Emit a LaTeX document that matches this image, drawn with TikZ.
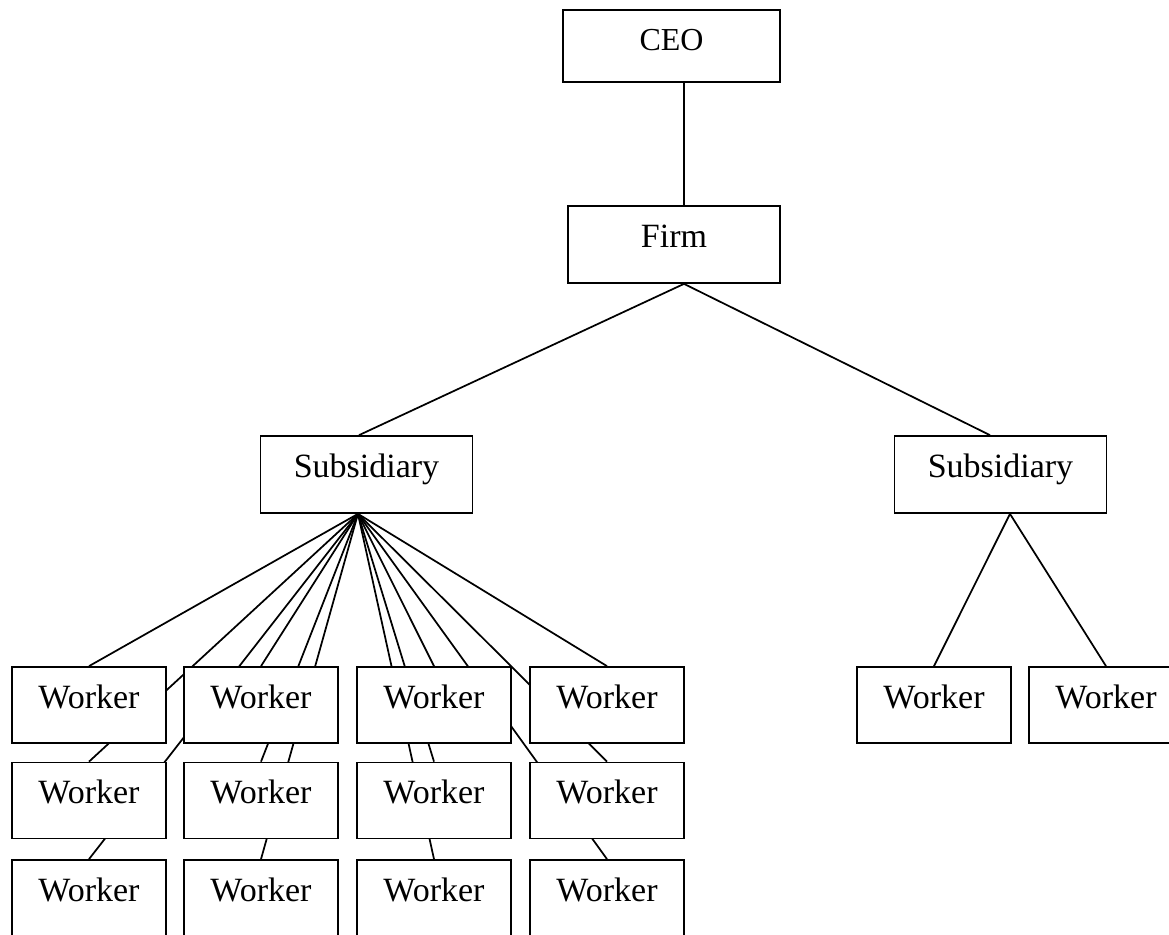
\documentclass[tikz,border=0pt]{standalone}
\usepackage{fontspec}
\setmainfont{Liberation Serif}
\usepackage{tikz}

\pgfdeclarelayer{background}
\pgfsetlayers{background,main}

\tikzset{
	unit/.style={draw, line width=1.3pt, fill=white, inner sep=0pt, text height=30.75pt, text depth=27pt, font=\fontsize{25.5}{30}\selectfont},
	boss/.style={unit, minimum width=159pt},
	worker/.style={unit, minimum width=115.5pt, text depth=26.25pt},
	link/.style={draw, line width=1.3pt}
}

\begin{document}
\begin{tikzpicture}[x=0.75pt, y=-0.75pt]
	\clip (0, 0) rectangle (1169, 934);
	%%
	\node[boss, minimum width=162.75pt, text depth=23.25pt, font=\fontsize{24}{28}\selectfont] (ceo) at (671.5, 46) {CEO};
	\node[boss] (firm) at (674, 244.5) {Firm};
	\node[boss] (subl) at (366.5, 474.5) {Subsidiary};
	\node[boss] (subr) at (1000.5, 474.5) {Subsidiary};
	%%
	\node[worker] (w11) at (89, 705) {Worker};
	\node[worker] (w12) at (261, 705) {Worker};
	\node[worker] (w13) at (434, 705) {Worker};
	\node[worker] (w14) at (607, 705) {Worker};
	\node[worker] (w21) at (89, 800.5) {Worker};
	\node[worker] (w22) at (261, 800.5) {Worker};
	\node[worker] (w23) at (434, 800.5) {Worker};
	\node[worker] (w24) at (607, 800.5) {Worker};
	\node[worker] (w31) at (89, 898) {Worker};
	\node[worker] (w32) at (261, 898) {Worker};
	\node[worker] (w33) at (434, 898) {Worker};
	\node[worker] (w34) at (607, 898) {Worker};
	%%
	\node[worker] (wr1) at (934, 705) {Worker};
	\node[worker] (wr2) at (1106, 705) {Worker};
	%%
	\coordinate (sublfoot) at ([xshift=-6.4pt]subl.south);
	\coordinate (subrfoot) at ([xshift=7.1pt]subr.south);
	\begin{pgfonlayer}{background}
	\path[link] ([xshift=9.4pt]ceo.south) -- ([xshift=7.5pt]firm.north);
	\path[link] ([xshift=7.5pt]firm.south) -- ([xshift=-5.6pt]subl.north);
	\path[link] ([xshift=7.5pt]firm.south) -- ([xshift=-7.9pt]subr.north);
	%%
	\path[link] (sublfoot) -- (w11.north);
	\path[link] (sublfoot) -- (w12.north);
	\path[link] (sublfoot) -- (w13.north);
	\path[link] (sublfoot) -- (w14.north);
	\path[link] (sublfoot) -- (w21.north);
	\path[link] (sublfoot) -- (w22.north);
	\path[link] (sublfoot) -- (w23.north);
	\path[link] (sublfoot) -- (w24.north);
	\path[link] (sublfoot) -- (w31.north);
	\path[link] (sublfoot) -- (w32.north);
	\path[link] (sublfoot) -- (w33.north);
	\path[link] (sublfoot) -- (w34.north);
	%%
	\path[link] (subrfoot) -- (wr1.north);
	\path[link] (subrfoot) -- (wr2.north);
	\end{pgfonlayer}
\end{tikzpicture}
\end{document}
